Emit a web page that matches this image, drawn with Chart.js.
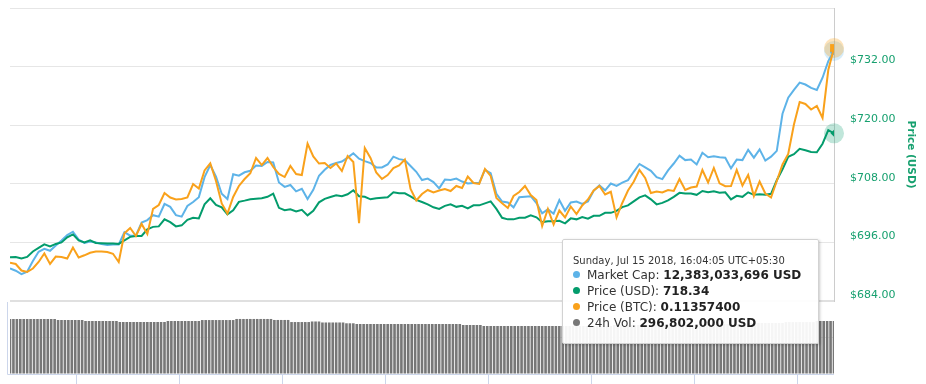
<!DOCTYPE html>
<html>
<head>
<meta charset="utf-8">
<script src="https://cdn.jsdelivr.net/npm/chart.js@4.4.1/dist/chart.umd.min.js"></script>
<style>
html, body { margin: 0; padding: 0; background: #fff; }
#wrap { position: relative; width: 926px; height: 384px; overflow: hidden; }
#tip { position: absolute; box-sizing: border-box; width: 257px; height: 105px;
  background: rgba(255,255,255,0.93); border: 1px solid #d2d2d2; border-radius: 2px;
  box-shadow: 1px 1px 3px rgba(0,0,0,0.22); padding: 14px 0 0 10px;
  font-family: 'DejaVu Sans', sans-serif; color: #333; white-space: nowrap; pointer-events: none; }
#tip .t { font-size: 10px; line-height: 13px; }
#tip .r { font-size: 12px; line-height: 16px; }
#tip .dot { display: inline-block; width: 7px; height: 7px; border-radius: 50%; margin-right: 7px; vertical-align: 1px; }
#tip b { color: #222; }
</style>
</head>
<body>
<div id="wrap"><canvas id="c" width="926" height="384"></canvas></div>
<script>
// ---- time base (wall clock in UTC+05:30) ----
const startTime = Date.UTC(2018, 6, 14, 16, 4, 5);
const priceStepMinutes = 10;
const volumeStepMinutes = 6;
const xTickLabels = ['18:00', '21:00', '00:00', '03:00', '06:00', '09:00', '12:00', '15:00'];
const priceTicks = [684, 696, 708, 720, 732, 744];
const volumeGridMillions = [0, 204.4, 408.8];

// ---- series ----
const marketCapBillionUSD = [
  11.937, 11.932, 11.925, 11.930, 11.952, 11.971, 11.977, 11.973, 11.984, 11.994,
  12.005, 12.012, 11.996, 11.989, 11.992, 11.990, 11.987, 11.985, 11.986, 11.986,
  12.011, 12.004, 12.004, 12.031, 12.036, 12.046, 12.043, 12.069, 12.063, 12.046,
  12.043, 12.065, 12.073, 12.083, 12.124, 12.149, 12.125, 12.090, 12.079, 12.130,
  12.127, 12.134, 12.137, 12.148, 12.147, 12.155, 12.154, 12.113, 12.104, 12.108,
  12.095, 12.100, 12.079, 12.098, 12.127, 12.139, 12.149, 12.153, 12.156, 12.164,
  12.173, 12.162, 12.157, 12.153, 12.144, 12.144, 12.150, 12.166, 12.161, 12.159,
  12.147, 12.135, 12.118, 12.121, 12.114, 12.101, 12.119, 12.118, 12.121, 12.115,
  12.111, 12.112, 12.112, 12.139, 12.132, 12.090, 12.074, 12.072, 12.062, 12.083,
  12.084, 12.085, 12.071, 12.050, 12.058, 12.049, 12.077, 12.055, 12.072, 12.074,
  12.069, 12.074, 12.096, 12.107, 12.097, 12.111, 12.106, 12.113, 12.118, 12.135,
  12.151, 12.144, 12.137, 12.124, 12.120, 12.138, 12.152, 12.168, 12.159, 12.160,
  12.150, 12.174, 12.165, 12.167, 12.165, 12.164, 12.142, 12.160, 12.159, 12.180,
  12.164, 12.181, 12.158, 12.166, 12.178, 12.254, 12.287, 12.303, 12.318, 12.314,
  12.307, 12.303, 12.328, 12.362, 12.383033696
];
const priceUSD = [
  692.98, 693.02, 692.72, 693.02, 694.15, 694.87, 695.59, 695.18, 695.69, 696.00,
  697.03, 697.64, 696.41, 696.00, 696.41, 695.90, 695.84, 695.79, 695.79, 695.69,
  696.41, 697.13, 697.33, 697.33, 698.67, 699.18, 699.28, 700.72, 700.16, 699.28,
  699.49, 700.62, 701.03, 700.92, 703.79, 705.03, 703.69, 703.18, 701.74, 702.56,
  704.31, 704.55, 704.82, 704.92, 705.03, 705.33, 705.99, 703.08, 702.60, 702.77,
  702.36, 702.67, 701.54, 702.46, 704.20, 704.92, 705.29, 705.64, 705.44, 705.85,
  706.67, 705.44, 705.33, 704.82, 705.03, 705.13, 705.23, 706.26, 706.05, 706.05,
  705.44, 704.72, 704.27, 703.79, 703.18, 702.87, 703.49, 703.79, 703.28, 703.49,
  702.97, 703.59, 703.59, 704.00, 704.41, 702.87, 701.03, 700.72, 700.72, 701.03,
  701.07, 701.54, 701.13, 700.16, 700.31, 700.31, 700.41, 699.90, 700.92, 700.72,
  701.19, 700.86, 701.44, 701.44, 702.05, 702.05, 702.46, 703.22, 703.59, 704.41,
  705.23, 705.64, 704.82, 703.79, 704.10, 704.62, 705.33, 706.15, 705.99, 705.99,
  705.74, 706.52, 706.26, 706.46, 706.15, 706.26, 704.82, 705.54, 705.33, 706.26,
  705.74, 705.85, 705.74, 705.95, 708.72, 710.97, 713.54, 714.05, 715.18, 714.87,
  714.52, 714.46, 716.21, 718.97, 718.34
];
const priceBTC = [
  0.109169, 0.109143, 0.109009, 0.108979, 0.109050, 0.109184, 0.109358, 0.109143, 0.109296, 0.109286,
  0.109255, 0.109481, 0.109276, 0.109321, 0.109374, 0.109399, 0.109399, 0.109389, 0.109352, 0.109184,
  0.109772, 0.109881, 0.109717, 0.109963, 0.109758, 0.110275, 0.110353, 0.110599, 0.110507, 0.110466,
  0.110476, 0.110507, 0.110784, 0.110691, 0.111061, 0.111208, 0.110845, 0.110384, 0.110179, 0.110517,
  0.110743, 0.110886, 0.111003, 0.111317, 0.111173, 0.111317, 0.111132, 0.110989, 0.110927, 0.111153,
  0.110989, 0.110968, 0.111614, 0.111348, 0.111204, 0.111214, 0.111112, 0.111204, 0.111050, 0.111358,
  0.111235, 0.109978, 0.111522, 0.111317, 0.111020, 0.110886, 0.110968, 0.111112, 0.111163, 0.111286,
  0.110681, 0.110445, 0.110579, 0.110661, 0.110609, 0.110650, 0.110681, 0.110640, 0.110743, 0.110702,
  0.110938, 0.110804, 0.110784, 0.111091, 0.110948, 0.110497, 0.110388, 0.110291, 0.110538, 0.110620,
  0.110743, 0.110558, 0.110456, 0.109922, 0.110271, 0.109953, 0.110240, 0.110097, 0.110322, 0.110168,
  0.110343, 0.110466, 0.110650, 0.110743, 0.110568, 0.110624, 0.110097, 0.110394, 0.110650, 0.110829,
  0.111071, 0.110907, 0.110599, 0.110630, 0.110609, 0.110661, 0.110640, 0.110886, 0.110661, 0.110712,
  0.110732, 0.111071, 0.110814, 0.111112, 0.110798, 0.110739, 0.110743, 0.111071, 0.110753, 0.110968,
  0.110538, 0.110835, 0.110589, 0.110507, 0.110845, 0.111184, 0.111399, 0.112004, 0.112466, 0.112425,
  0.112312, 0.112384, 0.112138, 0.113122, 0.113574
];
const volume24hMillionUSD = [
  308.0, 308.0, 308.0, 308.0, 308.0, 308.0, 308.0, 308.0, 308.0, 308.0, 308.0, 308.0, 308.0, 308.0,
  302.4, 302.4, 302.4, 302.4, 302.4, 302.4, 302.4, 302.4,
  296.9, 296.9, 296.9, 296.9, 296.9, 296.9, 296.9, 296.9, 296.9, 296.9,
  291.3, 291.3, 291.3, 291.3, 291.3, 291.3, 291.3, 291.3, 291.3, 291.3, 291.3, 291.3, 291.3, 291.3,
  296.7, 296.7, 296.7, 296.7, 296.7, 296.7, 296.7, 296.7, 296.7, 296.7,
  302.2, 302.2, 302.2, 302.2, 302.2, 302.2, 302.2, 302.2, 302.2, 302.2,
  308.2, 308.2, 308.2, 308.2, 308.2, 308.2, 308.2, 308.2, 308.2, 308.2, 308.2,
  302.6, 302.6, 302.6, 302.6, 302.6,
  291.0, 291.0, 291.0, 291.0, 291.0, 291.0,
  294.1, 294.1, 294.1,
  288.5, 288.5, 288.5, 288.5, 288.5, 288.5, 288.5,
  284.0, 284.0, 284.0,
  280.1, 280.1, 280.1, 280.1, 280.1, 280.1, 280.1, 280.1, 280.1, 280.1,
  280.1, 280.1, 280.1, 280.1, 280.1, 280.1, 280.1, 280.1, 280.1, 280.1,
  280.1, 280.1, 280.1, 280.1, 280.1, 280.1, 280.1, 280.1, 280.1, 280.1, 280.1,
  274.5, 274.5, 274.5, 274.5, 274.5, 274.5,
  268.9, 268.9, 268.9, 268.9, 268.9, 268.9, 268.9, 268.9, 268.9, 268.9,
  268.9, 268.9, 268.9, 268.9, 268.9, 268.9, 268.9, 268.9, 268.9, 268.9,
  268.9, 268.9, 268.9, 268.9, 268.9, 268.9, 268.9, 268.9, 268.9, 268.9,
  268.9, 268.9, 268.9, 268.9, 268.9, 268.9, 268.9, 268.9,
  274.3, 274.3, 274.3, 274.3, 274.3, 274.3, 274.3, 274.3, 274.3, 274.3,
  274.3, 274.3, 274.3, 274.3, 274.3, 274.3, 274.3, 274.3, 274.3, 274.3,
  274.3, 274.3, 274.3, 274.3, 274.3,
  279.8, 279.8, 279.8, 279.8, 279.8, 279.8, 279.8, 279.8, 279.8, 279.8, 279.8, 279.8, 279.8, 279.8, 279.8,
  285.5, 285.5, 285.5, 285.5, 285.5, 285.5, 285.5, 285.5, 285.5, 285.5,
  291.0, 291.0, 291.0, 291.0, 291.0, 291.0, 291.0, 291.0, 291.0,
  296.8, 296.8, 296.8, 296.8, 296.8, 296.802
];

// ---- colours ----
const BLUE = '#5db3e8';
const GREEN = '#039c6c';
const ORANGE = '#f9a11b';
const GRAY = '#777777';
const AXIS_GREEN = '#17a06f';

// ---- helpers ----
const startMinuteOfDay = 16 * 60 + 4 + 5 / 60;
const xTickMinutes = xTickLabels.map(s => {
  const [h, m] = s.split(':').map(Number);
  let v = h * 60 + m - startMinuteOfDay;
  if (v < 0) v += 1440;
  return v;
});
const DAYS = ['Sunday','Monday','Tuesday','Wednesday','Thursday','Friday','Saturday'];
const MONTHS = ['Jan','Feb','Mar','Apr','May','Jun','Jul','Aug','Sep','Oct','Nov','Dec'];
function formatTime(minutes) {
  const d = new Date(startTime + Math.round(minutes * 60000));
  const p = n => String(n).padStart(2, '0');
  return DAYS[d.getUTCDay()] + ', ' + MONTHS[d.getUTCMonth()] + ' ' + d.getUTCDate() + ' ' + d.getUTCFullYear() +
    ', ' + p(d.getUTCHours()) + ':' + p(d.getUTCMinutes()) + ':' + p(d.getUTCSeconds()) + ' UTC+05:30';
}
const toPoints = (arr, step) => arr.map((v, i) => ({ x: i * step, y: v }));
const noPad = s => { s.paddingTop = 0; s.paddingBottom = 0; s.paddingLeft = 0; s.paddingRight = 0; };

const tooltipRows = [
  { label: 'Market Cap', color: BLUE, fmt: v => Math.round(v * 1e9).toLocaleString('en-US') + ' USD' },
  { label: 'Price (USD)', color: GREEN, fmt: v => v.toFixed(2) },
  { label: 'Price (BTC)', color: ORANGE, fmt: v => v.toFixed(8) },
  { label: '24h Vol', color: GRAY, fmt: v => Math.round(v * 1e6).toLocaleString('en-US') + ' USD' }
];

function externalTooltip({ chart, tooltip }) {
  let el = document.getElementById('tip');
  if (!el) {
    el = document.createElement('div');
    el.id = 'tip';
    document.getElementById('wrap').appendChild(el);
  }
  const pts = tooltip.dataPoints || [];
  if (!pts.length) { el.style.display = 'none'; return; }
  const byLabel = {};
  pts.forEach(dp => { byLabel[dp.dataset.label] = dp; });
  const ref = byLabel['Price (USD)'] || pts[0];
  let html = '<div class="t">' + formatTime(ref.raw.x) + '</div>';
  tooltipRows.forEach(r => {
    const dp = byLabel[r.label];
    if (!dp) return;
    html += '<div class="r"><span class="dot" style="background:' + r.color + '"></span>' + r.label +
      ': <b>' + r.fmt(dp.raw.y) + '</b></div>';
  });
  el.innerHTML = html;
  el.style.display = 'block';
  el.style.left = (chart.chartArea.right - 272) + 'px';
  el.style.top = (chart.scales.yVol.top - 62) + 'px';
}

const haloPlugin = {
  id: 'halo',
  beforeDatasetsDraw(chart) {
    const ctx = chart.ctx;
    chart.getActiveElements().forEach(a => {
      const ds = chart.data.datasets[a.datasetIndex];
      if (!ds.haloColor) return;
      ctx.save();
      ctx.beginPath();
      ctx.arc(a.element.x, a.element.y, 10, 0, Math.PI * 2);
      ctx.fillStyle = ds.haloColor;
      ctx.fill();
      ctx.restore();
    });
  }
};

const panePlugin = {
  id: 'pane',
  beforeDatasetsDraw(chart) {
    const ctx = chart.ctx, a = chart.chartArea, v = chart.scales.yVol;
    ctx.save();
    ctx.strokeStyle = '#ccd6eb';
    ctx.lineWidth = 1;
    ctx.beginPath();
    ctx.moveTo(a.left - 2.5, v.top + 1);
    ctx.lineTo(a.left - 2.5, v.bottom + 0.5);
    ctx.lineTo(a.right, v.bottom + 0.5);
    ctx.stroke();
    ctx.restore();
  }
};

Chart.defaults.font.family = "'DejaVu Sans', sans-serif";

const chart = new Chart(document.getElementById('c'), {
  type: 'line',
  data: {
    datasets: [
      { type: 'line', label: 'Market Cap', data: toPoints(marketCapBillionUSD, priceStepMinutes), yAxisID: 'yCap',
        borderColor: BLUE, backgroundColor: BLUE, borderWidth: 2, pointRadius: 0, pointHoverRadius: 4,
        pointHoverBorderWidth: 0, pointHoverBackgroundColor: BLUE, tension: 0, order: 2,
        haloColor: 'rgba(93,179,232,0.25)' },
      { type: 'line', label: 'Price (USD)', data: toPoints(priceUSD, priceStepMinutes), yAxisID: 'y',
        borderColor: GREEN, backgroundColor: GREEN, borderWidth: 2, pointRadius: 0, pointHoverRadius: 3.5,
        pointStyle: 'rectRot', pointHoverBorderWidth: 0, pointHoverBackgroundColor: GREEN, tension: 0, order: 1,
        haloColor: 'rgba(3,156,108,0.25)' },
      { type: 'line', label: 'Price (BTC)', data: toPoints(priceBTC, priceStepMinutes), yAxisID: 'yBtc',
        borderColor: ORANGE, backgroundColor: ORANGE, borderWidth: 2, pointRadius: 0, pointHoverRadius: 5.5,
        pointStyle: 'rect', pointHoverBorderWidth: 0, pointHoverBackgroundColor: ORANGE, tension: 0, order: 0,
        haloColor: 'rgba(249,161,27,0.3)' },
      { type: 'bar', label: '24h Vol', data: toPoints(volume24hMillionUSD, volumeStepMinutes), yAxisID: 'yVol',
        backgroundColor: GRAY, hoverBackgroundColor: GRAY, borderWidth: 0,
        barPercentage: 1, categoryPercentage: 0.76, order: 3 }
    ]
  },
  options: {
    responsive: false,
    animation: false,
    events: [],
    layout: { padding: { left: 10, top: 8, right: 0, bottom: 0 } },
    plugins: {
      legend: { display: false },
      tooltip: { enabled: false, external: externalTooltip, animation: false }
    },
    scales: {
      x: {
        type: 'linear', min: 0, max: 1440, offset: false,
        afterBuildTicks: s => { s.ticks = xTickMinutes.map(v => ({ value: v })); },
        afterFit: s => { s.height = 10; noPad(s); },
        ticks: { display: false },
        grid: { drawOnChartArea: false, drawTicks: true, tickLength: 10, color: '#ccd6eb', offset: false },
        border: { display: false }
      },
      y: {
        type: 'linear', position: 'right', stack: 'main', stackWeight: 293,
        min: 684, max: 744,
        afterBuildTicks: s => { s.ticks = priceTicks.map(v => ({ value: v })); },
        afterFit: s => { s.width = 92; noPad(s); },
        grid: { color: ctx => (ctx.tick && ctx.tick.value === 684) ? '#e0e0e0' : '#e6e6e6',
                lineWidth: ctx => (ctx.tick && ctx.tick.value === 684) ? 2 : 1, drawTicks: false },
        border: { display: true, color: '#cccccc' },
        ticks: { color: AXIS_GREEN, padding: 16, labelOffset: -6, font: { size: 11 },
                 callback: v => v >= 744 ? '' : '$' + Number(v).toFixed(2) },
        title: { display: true, text: 'Price (USD)', color: AXIS_GREEN,
                 font: { size: 10.5, weight: 'bold' }, padding: { top: 9, bottom: 0 } }
      },
      yVol: {
        type: 'linear', position: 'right', stack: 'main', stackWeight: 73,
        min: 0, max: 408.8,
        afterBuildTicks: s => { s.ticks = volumeGridMillions.map(v => ({ value: v })); },
        afterFit: s => { s.width = 92; noPad(s); },
        grid: { color: ctx => (ctx.tick && ctx.tick.value === 204.4) ? '#e6e6e6' : 'rgba(0,0,0,0)', drawTicks: false },
        border: { display: false },
        ticks: { display: false }
      },
      yCap: { type: 'linear', position: 'right', display: false, min: 11.72022, max: 12.471, afterFit: noPad },
      yBtc: { type: 'linear', position: 'right', display: false, min: 0.1068862, max: 0.114394, afterFit: noPad }
    }
  },
  plugins: [haloPlugin, panePlugin]
});

const lastPrice = priceUSD.length - 1;
const lastVol = volume24hMillionUSD.length - 1;
const active = [
  { datasetIndex: 0, index: lastPrice },
  { datasetIndex: 1, index: lastPrice },
  { datasetIndex: 2, index: lastPrice },
  { datasetIndex: 3, index: lastVol }
];
chart.setActiveElements(active);
chart.tooltip.setActiveElements(active, { x: chart.chartArea.right, y: chart.chartArea.top });
chart.update();
</script>
</body>
</html>
